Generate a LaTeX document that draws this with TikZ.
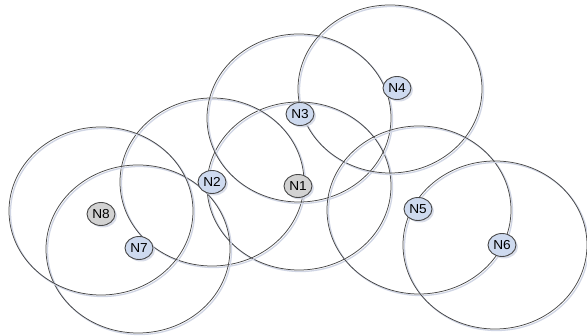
\documentclass[tikz,border=0pt]{standalone}
\usepackage{fontspec}
\newfontfamily\nodefont[FakeStretch=1.05]{Liberation Sans}
\usetikzlibrary{shapes.geometric,shadows,backgrounds}
\definecolor{nodeblue}{RGB}{206,218,239}
\definecolor{nodegrey}{RGB}{210,210,210}
\definecolor{rimgrey}{RGB}{72,72,72}
\definecolor{haze}{RGB}{208,213,228}
\tikzset{
  station/.style={ellipse, draw=rimgrey, line width=0.9pt, fill=nodeblue,
                  minimum width=28pt, minimum height=23pt, inner sep=0pt,
                  font=\nodefont\fontsize{13}{14}\selectfont,
                  drop shadow={shadow xshift=2pt, shadow yshift=-2pt,
                               fill=haze, opacity=0.8}},
  idle/.style={station, fill=nodegrey},
  reach/.style={draw=rimgrey, line width=0.75pt},
  reachshade/.style={draw=haze, line width=1.3pt},
}

\begin{document}
\begin{tikzpicture}[x=1pt,y=-1pt]
  \path[use as bounding box] (0,0) rectangle (587,336);

  % stations
  \node[idle]    (N1) at (298,186) {N1};
  \node[station] (N2) at (212,182) {N2};
  \node[station] (N3) at (300,114) {N3};
  \node[station] (N4) at (397,88)  {N4};
  \node[station] (N5) at (418,209) {N5};
  \node[station] (N6) at (502,245) {N6};
  \node[station] (N7) at (139,248) {N7};
  \node[idle]    (N8) at (101,214) {N8};

  % radio ranges
  \begin{scope}[on background layer]
    \foreach \n/\dx/\dy in {N1/1/0, N2/0/0, N3/-1/4, N4/-7/1,
                            N5/1/1, N6/-7/0, N7/-1/1, N8/0/-3}
    {
      \draw[reachshade] ([shift={(\dx+1.5,\dy+1.5)}]\n.center)
        ellipse [x radius=92, y radius=84];
      \draw[reach] ([shift={(\dx,\dy)}]\n.center)
        ellipse [x radius=92, y radius=84];
    }
  \end{scope}
\end{tikzpicture}
\end{document}
